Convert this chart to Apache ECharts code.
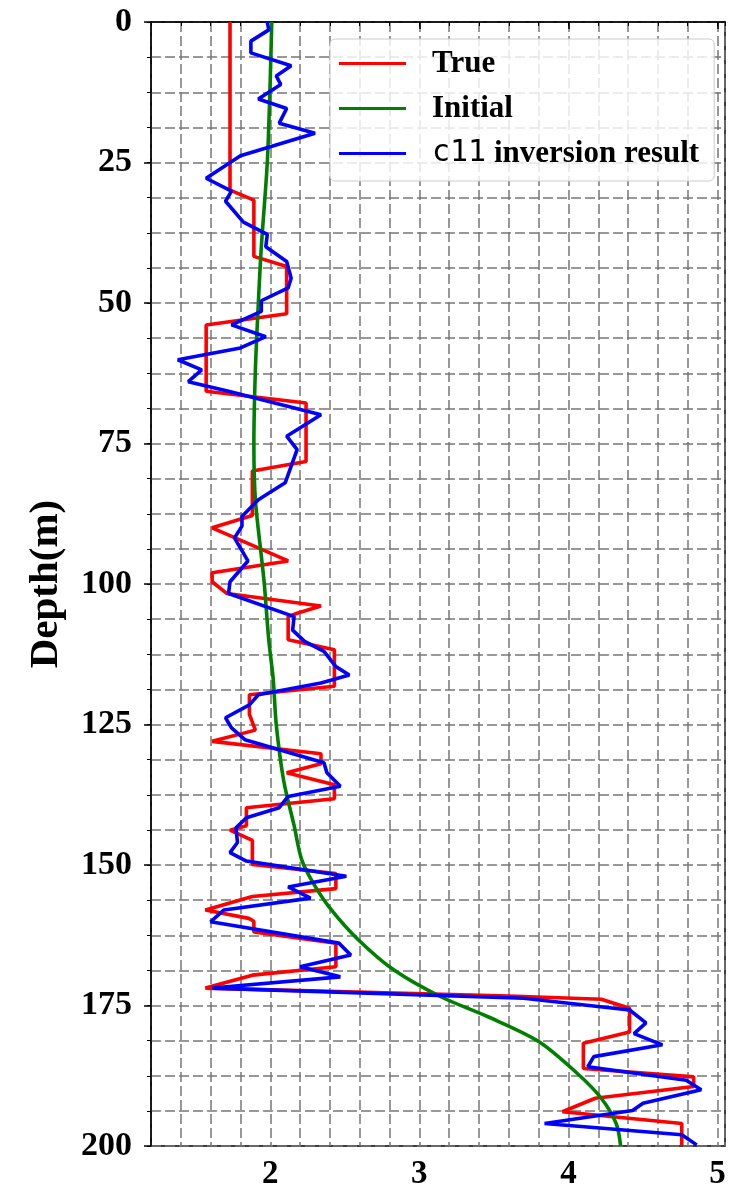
<!DOCTYPE html>
<html><head><meta charset="utf-8">
<script src="https://cdn.jsdelivr.net/npm/echarts@6/dist/echarts.min.js"></script>
<style>html,body{margin:0;padding:0;background:#fff}#c{width:729px;height:1196px}</style>
</head><body><div id="c"></div>
<script>
// [velocity, depth(m)]
const trueModel = [
  [1.73,0],[1.73,29.9],[1.89,31.7],[1.89,41.7],[2.11,43.5],[2.11,51.9],[1.57,53.9],[1.57,65.7],
  [2.24,67.8],[2.24,78.2],[1.88,79.9],[1.88,87.8],[1.61,90.0],[2.12,95.9],[1.61,98.0],[1.61,99.6],
  [1.71,101.7],[2.34,103.9],[2.18,105.2],[2.12,105.8],[2.12,109.9],[2.43,111.7],[2.43,118.2],
  [1.86,119.7],[1.86,123.2],[1.90,126.0],[1.61,128.0],[2.34,130.2],[2.34,132.0],[2.11,133.6],
  [2.43,135.7],[2.43,138.2],[1.84,139.8],[1.84,143.0],[1.73,143.8],[1.88,145.6],[1.88,149.9],
  [2.44,151.5],[2.44,154.2],[1.88,155.6],[1.565,158.0],[1.856,159.5],[1.89,160.0],[1.89,161.9],
  [2.44,163.9],[2.44,168.1],[1.88,169.6],[1.565,171.9],[3.6,173.3],[4.22,173.9],[4.41,175.5],
  [4.41,179.7],[4.1,181.7],[4.1,186.2],[4.84,187.7],[4.84,189.4],[4.18,191.5],[3.96,193.9],
  [4.76,196.0],[4.76,200]
];
const initialModel = [
  [2.01,0],[2.0,10],[1.98,25],[1.94,40],[1.92,50],[1.9,62],[1.89,75],[1.9,85],[1.94,95],[1.96,100],
  [1.99,110],[2.02,117],[2.04,125],[2.09,135],[2.16,143],[2.21,149],[2.29,153.3],[2.41,158],
  [2.59,163.3],[2.83,168.7],[3.14,173.4],[3.46,177],[3.8,181.4],[4.06,187.1],[4.22,191.5],
  [4.32,196],[4.35,200]
];
const c11Result = [
  [1.98,0],[1.99,1.4],[1.87,3.4],[1.87,5.5],[2.14,7.8],[2.04,9.6],[2.07,11.1],[1.92,13.7],
  [2.11,15.4],[2.06,18.0],[2.30,19.8],[1.80,23.8],[1.57,27.8],[1.74,30.1],[1.70,31.9],[1.82,35.6],
  [1.98,37.8],[1.97,40.0],[2.11,42.6],[2.14,45.6],[2.12,47.3],[1.94,49.6],[1.94,51.5],[1.74,53.9],
  [1.97,56.0],[1.80,58.0],[1.38,60.1],[1.54,61.9],[1.45,64.0],[1.72,65.7],[2.34,69.9],[2.11,73.7],
  [2.18,76.1],[2.10,82.0],[1.92,85.0],[1.81,88.0],[1.81,89.7],[1.76,91.8],[1.85,95.9],[1.73,99.6],
  [1.72,101.7],[2.16,105.8],[2.15,108.2],[2.23,110.2],[2.36,112.0],[2.44,114.7],[2.53,116.2],
  [2.34,117.6],[1.92,119.7],[1.86,121.5],[1.70,123.8],[1.74,125.6],[1.83,127.7],[2.36,131.8],
  [2.38,133.6],[2.47,136.0],[2.12,137.8],[2.06,139.8],[1.84,141.6],[1.77,143.4],[1.78,146.0],
  [1.73,147.8],[1.84,149.3],[2.51,152.0],[2.12,153.9],[2.27,155.9],[1.69,158.0],[1.60,160.1],
  [2.46,163.9],[2.54,166.0],[2.20,168.1],[2.47,169.9],[1.61,171.9],[3.7,173.7],[4.41,175.8],
  [4.52,178.1],[4.44,180.0],[4.63,182.0],[4.17,184.1],[4.13,185.9],[4.79,188.3],[4.89,190.0],
  [4.5,192.4],[4.43,193.7],[3.84,196.0],[4.76,198.0],[4.86,199.8]
];
const xTickLabels = [2,3,4,5];
const yTickLabels = [0,25,50,75,100,125,150,175,200];
const seriesNames = ['True','Initial','c11 inversion result'];

const serif = 'Liberation Serif';
const gridDash = {color:'#777777', width:1.5, type:[10,4]};
const chart = echarts.init(document.getElementById('c'), null, {renderer:'canvas'});
chart.setOption({
  animation:false,
  backgroundColor:'#fff',
  grid:{left:151,right:4,top:22,bottom:50,show:true,borderColor:'#000',borderWidth:1.5,backgroundColor:'transparent'},
  legend:{
    left:330, top:39, orient:'vertical', itemWidth:67, itemHeight:3, icon:'rect', itemGap:14,
    padding:[9,15,12,9], backgroundColor:'rgba(255,255,255,0.82)', borderColor:'#cccccc', borderWidth:1, borderRadius:5,
    data:seriesNames,
    formatter: n => n.indexOf('c11')===0 ? '{m|c11}'+n.slice(3) : n,
    textStyle:{fontFamily:serif, fontWeight:'bold', fontSize:31, lineHeight:30, color:'#000', padding:[0,0,0,21],
      rich:{m:{fontFamily:'DejaVu Sans Mono', fontWeight:'normal', fontSize:30, lineHeight:30, color:'#000'}}}
  },
  xAxis:[
    {type:'value', min:1.2, max:5.05, interval:0.2, position:'bottom',
     axisLine:{show:true, lineStyle:{color:'#000', width:1.5}},
     axisTick:{show:true, length:4, lineStyle:{color:'#000', width:1}},
     axisLabel:{show:false}, splitLine:{show:true, lineStyle:gridDash}},
    {type:'value', min:1.2, max:5.05, position:'bottom',
     axisLine:{show:false},
     axisTick:{show:true, length:7, customValues:xTickLabels, lineStyle:{color:'#000', width:1.5}},
     axisLabel:{show:true, customValues:xTickLabels, margin:12, fontFamily:serif, fontWeight:'bold', fontSize:33, color:'#000'},
     splitLine:{show:false}}
  ],
  yAxis:[
    {type:'value', min:0, max:200, interval:6.25, inverse:true, position:'left',
     axisLine:{show:true, lineStyle:{color:'#000', width:1.5}},
     axisTick:{show:true, length:4, lineStyle:{color:'#000', width:1}},
     axisLabel:{show:false}, splitLine:{show:true, lineStyle:gridDash}},
    {type:'value', min:0, max:200, interval:25, inverse:true, position:'left',
     axisLine:{show:false},
     axisTick:{show:true, length:7, lineStyle:{color:'#000', width:1.5}},
     axisLabel:{show:true, margin:19, fontFamily:serif, fontWeight:'bold', fontSize:34, color:'#000',
       formatter:v => yTickLabels.indexOf(v)>=0 ? String(v) : ''},
     splitLine:{show:false},
     name:'Depth(m)', nameLocation:'middle', nameGap:84, nameRotate:90,
     nameTextStyle:{fontFamily:serif, fontWeight:'bold', fontSize:41, color:'#000'}}
  ],
  series:[
    {name:seriesNames[0], type:'line', data:trueModel, xAxisIndex:0, yAxisIndex:0, symbol:'none',
     lineStyle:{color:'#ff0000', width:3.6}, itemStyle:{color:'#ff0000'}, z:2},
    {name:seriesNames[1], type:'line', data:initialModel, xAxisIndex:0, yAxisIndex:0, symbol:'none', smooth:0.3,
     lineStyle:{color:'#008000', width:3.6}, itemStyle:{color:'#008000'}, z:3},
    {name:seriesNames[2], type:'line', data:c11Result, xAxisIndex:0, yAxisIndex:0, symbol:'none',
     lineStyle:{color:'#0000ff', width:3.6}, itemStyle:{color:'#0000ff'}, z:4}
  ]
});
</script></body></html>
